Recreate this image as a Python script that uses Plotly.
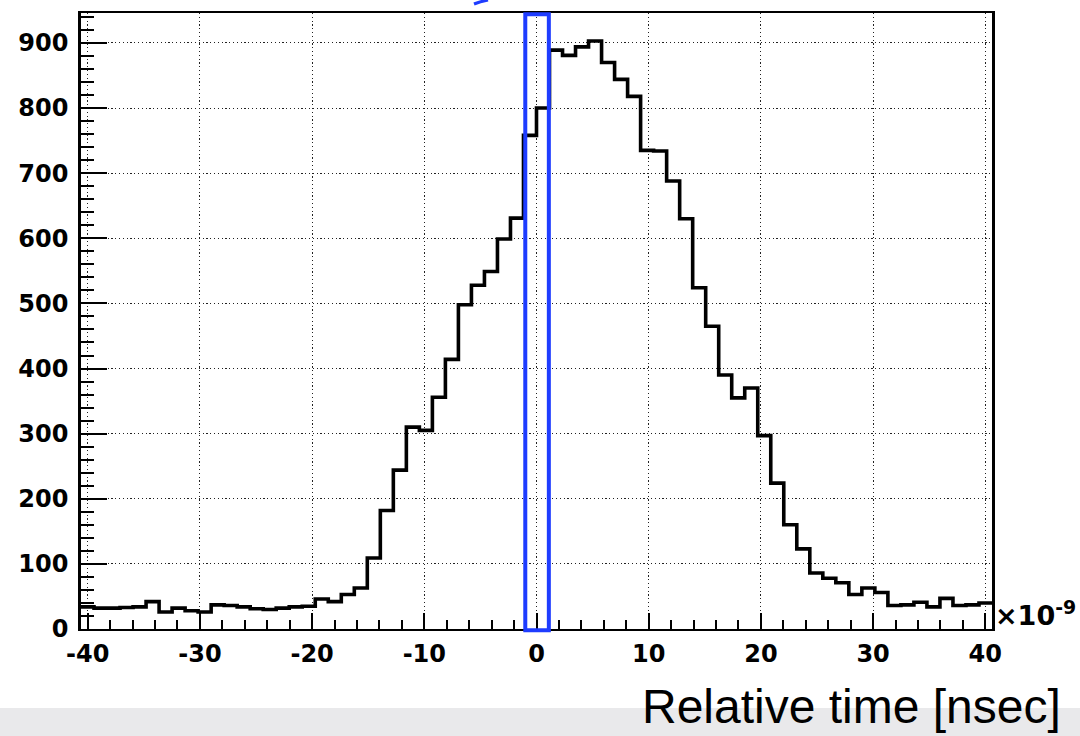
import numpy as np
import plotly.graph_objects as go

# Histogram binning (ns) and counts
XMIN, XMAX, NBINS = -40.6, 40.6, 70
counts = [34, 32, 32, 33, 34, 42, 26, 32, 28, 26,
          37, 36, 34, 31, 30, 32, 34, 35, 46, 42,
          53, 63, 109, 182, 244, 310, 305, 356, 414, 498,
          528, 549, 599, 631, 758, 800, 889, 881, 894, 903,
          870, 844, 818, 735, 734, 688, 630, 524, 465, 390,
          355, 370, 297, 224, 160, 123, 86, 78, 71, 53,
          63, 56, 36, 37, 41, 34, 47, 36, 37, 40]
YMAX = 946
x_ticks = [-40, -30, -20, -10, 0, 10, 20, 30, 40]
y_ticks = [0, 100, 200, 300, 400, 500, 600, 700, 800, 900]
highlight = (-1.0, 1.1)   # blue selection window (ns)
x_title = "Relative time [nsec]"
exp_label = "×10<sup>-9</sup>"

edges = np.linspace(XMIN, XMAX, NBINS + 1)
xs = list(edges)
ys = list(counts) + [counts[-1]]

tickfont = dict(family="DejaVu Sans", size=24, color="black", weight="bold")

fig = go.Figure()
fig.add_trace(go.Scatter(x=xs, y=ys, mode="lines", line_shape="hv",
                         line=dict(color="black", width=3.6),
                         hoverinfo="skip", showlegend=False))

fig.update_layout(
    width=1080, height=736,
    margin=dict(l=81, r=88, t=13, b=107),
    paper_bgcolor="white", plot_bgcolor="white",
    showlegend=False,
    xaxis=dict(range=[XMIN, XMAX], tickmode="array", tickvals=x_ticks,
               ticktext=[str(v) for v in x_ticks],
               ticks="inside", ticklen=16, tickwidth=1.5, tickcolor="black",
               minor=dict(tickmode="linear", tick0=-40, dtick=2, ticks="inside", ticklen=9,
                          tickwidth=1.5, tickcolor="black", showgrid=False),
               showgrid=True, gridcolor="#222222", gridwidth=1.2, griddash="1.2px,2.6px",
               zeroline=False, showline=True, linecolor="black", linewidth=2,
               mirror=True, tickfont=tickfont, ticklabelstandoff=2),
    yaxis=dict(range=[0, YMAX], tickmode="array", tickvals=y_ticks,
               ticktext=[str(v) for v in y_ticks],
               ticks="inside", ticklen=26, tickwidth=1.5, tickcolor="black",
               minor=dict(tickmode="linear", tick0=0, dtick=20, ticks="inside", ticklen=13,
                          tickwidth=1.5, tickcolor="black", showgrid=False),
               showgrid=True, gridcolor="#222222", gridwidth=1.2, griddash="1.2px,2.6px",
               zeroline=False, showline=True, linecolor="black", linewidth=2.5,
               mirror=True, tickfont=tickfont, ticklabelstandoff=5),
)

# grey slide band at the bottom
fig.add_shape(type="rect", xref="paper", yref="paper",
              x0=-0.1, x1=1.11, y0=-0.18, y1=-0.1283,
              fillcolor="#e9e9eb", line=dict(width=0), layer="below")

# blue highlight box
fig.add_shape(type="rect", xref="x", yref="paper",
              x0=highlight[0], x1=highlight[1], y0=-0.002, y1=0.998,
              line=dict(color="#1e3cff", width=4), fillcolor="rgba(0,0,0,0)")

# tip of a blue arrow cut off at the top
fig.add_shape(type="path", xref="paper", yref="paper",
              path="M {:.4f},{:.4f} Q {:.4f},{:.4f} {:.4f},{:.4f}".format(
                  (474 - 81) / 911, (629 - 4) / 616,
                  (480 - 81) / 911, (629 - 1.5) / 616,
                  (488 - 81) / 911, (629 + 0) / 616),
              line=dict(color="#1e3cff", width=3))

fig.add_annotation(text=exp_label, xref="paper", yref="paper",
                   x=1.001, y=-0.006, xanchor="left", yanchor="bottom",
                   showarrow=False,
                   font=dict(family="DejaVu Sans", size=27, color="black", weight="bold"))

fig.add_annotation(text=x_title, xref="paper", yref="paper",
                   x=(1063 - 81) / 911, y=(629 - 735) / 616,
                   xanchor="right", yanchor="bottom", showarrow=False,
                   font=dict(family="Liberation Sans", size=48, color="black"))

fig.write_html("out.html")
